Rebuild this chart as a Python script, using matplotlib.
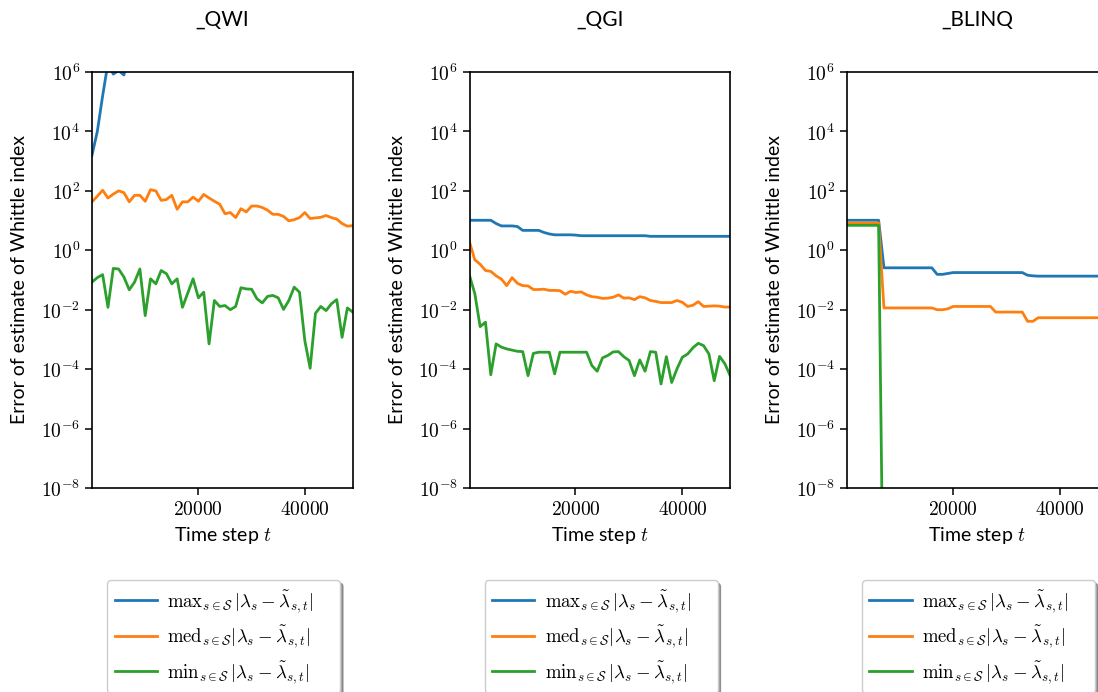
import numpy as np
import matplotlib
matplotlib.use("Agg")
import matplotlib.pyplot as plt
from matplotlib.ticker import FuncFormatter, FixedLocator, NullLocator

plt.rcParams['mathtext.fontset'] = 'cm'
plt.rcParams['font.family'] = ['Lato', 'DejaVu Sans']

# ---------------- data (log10 of error) ----------------
time_steps = np.linspace(190, 48920, 50)

titles = ["_QWI", "_QGI", "_BLINQ"]

qwi_max_log = [3.2, 4.0, 5.2, 6.3, 5.93, 6.05, 5.9, 6.8, 7.2, 7.5, 7.3, 7.6, 7.8, 7.7,
               7.9, 8.0, 7.8, 8.1, 8.2, 8.0, 8.3, 8.1, 8.4, 8.2, 8.5, 8.3, 8.4, 8.6,
               8.5, 8.4, 8.7, 8.6, 8.5, 8.8, 8.6, 8.7, 8.9, 8.8, 8.7, 8.9, 9.0, 8.8,
               8.9, 9.1, 9.0, 8.9, 9.1, 9.2, 9.0, 9.1]
qwi_med_log = [1.63, 1.82, 2.02, 1.76, 1.89, 2.00, 1.94, 1.63, 1.85, 1.85, 1.65, 2.04,
               2.00, 1.68, 1.71, 1.85, 1.38, 1.63, 1.63, 1.79, 1.65, 1.88, 1.76, 1.65,
               1.55, 1.23, 1.27, 1.10, 1.40, 1.29, 1.49, 1.49, 1.44, 1.35, 1.21, 1.21,
               1.14, 0.99, 1.03, 1.10, 1.27, 1.07, 1.09, 1.11, 1.17, 1.10, 1.05, 0.90,
               0.81, 0.83]
qwi_min_log = [-1.07, -0.92, -0.82, -1.92, -0.61, -0.63, -0.90, -1.33, -1.07, -0.63,
               -2.20, -0.96, -1.13, -0.68, -0.79, -1.13, -0.96, -1.92, -1.44, -0.96,
               -1.60, -1.41, -3.15, -1.69, -1.89, -1.86, -2.00, -1.89, -1.26, -1.30,
               -1.31, -1.63, -1.77, -1.55, -1.52, -1.60, -1.99, -1.69, -1.24, -1.41,
               -3.04, -3.97, -2.12, -1.89, -2.03, -1.80, -1.66, -2.93, -1.94, -2.08]

qgi_max_log = [1.01, 1.01, 1.01, 1.01, 1.01, 0.90, 0.82, 0.82, 0.82, 0.80, 0.67, 0.67,
               0.67, 0.67, 0.60, 0.55, 0.52, 0.52, 0.52, 0.52, 0.51, 0.49, 0.49, 0.49,
               0.49, 0.49, 0.49, 0.49, 0.49, 0.49, 0.49, 0.49, 0.49, 0.49, 0.47, 0.47,
               0.47, 0.47, 0.47, 0.47, 0.47, 0.47, 0.47, 0.47, 0.47, 0.47, 0.47, 0.47,
               0.47, 0.47]
qgi_med_log = [0.28, -0.32, -0.47, -0.68, -0.71, -0.86, -0.97, -1.19, -0.92, -1.11,
               -1.19, -1.20, -1.32, -1.32, -1.31, -1.35, -1.35, -1.36, -1.48, -1.38,
               -1.42, -1.40, -1.50, -1.56, -1.58, -1.62, -1.61, -1.58, -1.50, -1.61,
               -1.60, -1.66, -1.56, -1.60, -1.69, -1.72, -1.76, -1.76, -1.76, -1.69,
               -1.75, -1.89, -1.85, -1.73, -1.89, -1.88, -1.87, -1.88, -1.91, -1.91]
qgi_min_log = [-0.85, -1.46, -2.57, -2.42, -4.19, -3.15, -3.26, -3.32, -3.36, -3.40,
               -3.41, -4.22, -3.47, -3.43, -3.43, -3.43, -4.16, -3.43, -3.43, -3.43,
               -3.43, -3.43, -3.43, -3.88, -4.07, -3.62, -3.54, -3.42, -3.41, -3.58,
               -3.71, -4.22, -3.69, -4.07, -3.41, -3.43, -4.50, -3.58, -4.45, -3.99,
               -3.60, -3.49, -3.28, -3.13, -3.21, -3.49, -4.39, -3.57, -3.82, -4.22]

blinq_max_log = [1.01, 1.01, 1.01, 1.01, 1.01, 1.01, 1.01, -0.59, -0.59, -0.59, -0.59,
                 -0.59, -0.59, -0.59, -0.59, -0.59, -0.59, -0.81, -0.81, -0.78, -0.75,
                 -0.75, -0.75, -0.75, -0.75, -0.75, -0.75, -0.75, -0.75, -0.75, -0.75,
                 -0.75, -0.75, -0.75, -0.84, -0.86, -0.87, -0.87, -0.87, -0.87, -0.87,
                 -0.87, -0.87, -0.87, -0.87, -0.87, -0.87, -0.87, -0.87, -0.87]
blinq_med_log = [0.92, 0.92, 0.92, 0.92, 0.92, 0.92, 0.92, -1.94, -1.94, -1.94, -1.94,
                 -1.94, -1.94, -1.94, -1.94, -1.94, -1.94, -2.00, -2.00, -1.97, -1.89,
                 -1.89, -1.89, -1.89, -1.89, -1.89, -1.89, -1.89, -2.08, -2.08, -2.08,
                 -2.08, -2.08, -2.08, -2.39, -2.39, -2.27, -2.27, -2.27, -2.27, -2.27,
                 -2.27, -2.27, -2.27, -2.27, -2.27, -2.27, -2.27, -2.27, -2.27]
blinq_min_log = [0.84, 0.84, 0.84, 0.84, 0.84, 0.84, 0.84, -14.0, -14.0, -14.0, -14.0,
                 -14.0, -14.0, -14.0, -14.0, -14.0, -14.0, -14.0, -14.0, -14.0, -14.0,
                 -14.0, -14.0, -14.0, -14.0, -14.0, -14.0, -14.0, -14.0, -14.0, -14.0,
                 -14.0, -14.0, -14.0, -14.0, -14.0, -14.0, -14.0, -14.0, -14.0, -14.0,
                 -14.0, -14.0, -14.0, -14.0, -14.0, -14.0, -14.0, -14.0, -14.0]

series = [
    (qwi_max_log, qwi_med_log, qwi_min_log),
    (qgi_max_log, qgi_med_log, qgi_min_log),
    (blinq_max_log, blinq_med_log, blinq_min_log),
]

legend_labels = [
    r"$\mathrm{max}_{s\in\mathcal{S}}\,|\lambda_s-\tilde{\lambda}_{s,t}|$",
    r"$\mathrm{med}_{s\in\mathcal{S}}|\lambda_s-\tilde{\lambda}_{s,t}|$",
    r"$\mathrm{min}_{s\in\mathcal{S}}\,|\lambda_s-\tilde{\lambda}_{s,t}|$",
]
colors = ["#1f77b4", "#ff7f0e", "#2ca02c"]

# ---------------- figure ----------------
W, H = 1098, 692
fig = plt.figure(figsize=(W / 100, H / 100), dpi=100)

ax_left_px = [92, 469.5, 846.7]
ax_w_px = 260.7
ax_top_px, ax_bot_px = 72, 488

for i in range(3):
    ax = fig.add_axes([ax_left_px[i] / W, (H - ax_bot_px) / H,
                       ax_w_px / W, (ax_bot_px - ax_top_px) / H])
    for vals, lab, col in zip(series[i], legend_labels, colors):
        ax.plot(time_steps, 10.0 ** np.array(vals), color=col, lw=2.0, label=lab)
    ax.set_yscale("log")
    ax.set_ylim(1e-8, 1e6)
    ax.set_xlim(time_steps[0], time_steps[-1])
    ax.yaxis.set_major_locator(FixedLocator([10.0 ** e for e in range(-8, 7, 2)]))
    ax.yaxis.set_minor_locator(NullLocator())
    ax.yaxis.set_major_formatter(FuncFormatter(
        lambda v, p: r"$10^{%d}$" % int(round(np.log10(v)))))
    ax.xaxis.set_major_locator(FixedLocator([20000, 40000]))
    ax.xaxis.set_major_formatter(FuncFormatter(lambda v, p: r"$%d$" % v))
    ax.tick_params(labelsize=14, length=5, width=1.1, color="black")
    for sp in ax.spines.values():
        sp.set_linewidth(1.2)
    ax.set_title(titles[i], fontsize=15, pad=33)
    ax.set_xlabel(r"Time step $t$", fontsize=14, labelpad=5)
    ax.set_ylabel("Error of estimate of Whittle index", fontsize=14, labelpad=9)
    ax.legend(loc="upper left", bbox_to_anchor=(0.058, -0.222, 0.894, 0.0),
              mode="expand", borderaxespad=0,
              fontsize=13.5, shadow=True, fancybox=True, handlelength=2.25,
              labelspacing=0.45, borderpad=0.4, handletextpad=0.55, edgecolor="0.8")

fig.savefig("out.png", dpi=100)
